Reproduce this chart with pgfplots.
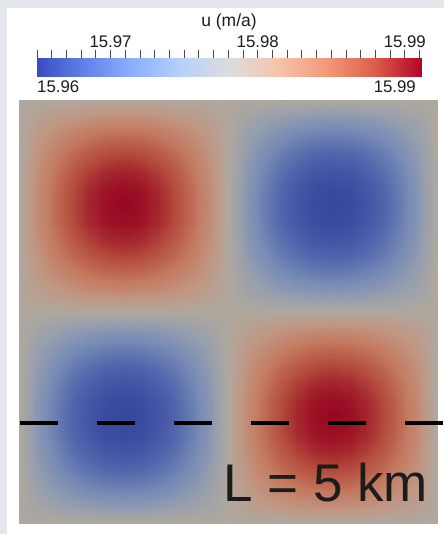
\documentclass[border=0pt]{standalone}
\usepackage{pgfplots}
\pgfplotsset{compat=1.18}
\usepgfplotslibrary{patchplots}
\usepackage{pgfplotstable}
\usepackage{fontspec}
\setmainfont{Liberation Sans}
\definecolor{bgc}{RGB}{228,231,236}
\definecolor{txt}{RGB}{28,28,28}
\definecolor{tk}{RGB}{70,70,70}
\pgfplotsset{
 colormap={coolwarm}{rgb255=(59,76,192) rgb255=(98,130,234) rgb255=(141,176,254) rgb255=(184,208,249) rgb255=(221,221,221) rgb255=(245,196,173) rgb255=(244,154,123) rgb255=(222,96,77) rgb255=(180,4,38)},
 colormap={fielddark}{rgb255=(55,70,160) rgb255=(82,102,172) rgb255=(118,138,182) rgb255=(150,158,174) rgb255=(176,168,158) rgb255=(192,150,130) rgb255=(196,122,97) rgb255=(180,75,60) rgb255=(150,3,32)},
}
% field u (m/a) on a 25 x 25 grid, one row of 25 values per line (bottom row first)
\pgfplotstableread[row sep=\\]{
u\\
15.978\\ 15.978\\ 15.978\\ 15.978\\ 15.978\\ 15.978\\ 15.978\\ 15.978\\ 15.978\\ 15.978\\ 15.978\\ 15.978\\ 15.978\\ 15.978\\ 15.978\\ 15.978\\ 15.978\\ 15.978\\ 15.978\\ 15.978\\ 15.978\\ 15.978\\ 15.978\\ 15.978\\ 15.978\\
15.978\\ 15.9765\\ 15.9755\\ 15.9747\\ 15.9741\\ 15.9737\\ 15.9736\\ 15.9737\\ 15.9741\\ 15.9747\\ 15.9755\\ 15.9765\\ 15.978\\ 15.9795\\ 15.9805\\ 15.9813\\ 15.9819\\ 15.9823\\ 15.9824\\ 15.9823\\ 15.9819\\ 15.9813\\ 15.9805\\ 15.9795\\ 15.978\\
15.978\\ 15.9755\\ 15.9737\\ 15.9723\\ 15.9713\\ 15.9707\\ 15.9705\\ 15.9707\\ 15.9713\\ 15.9723\\ 15.9737\\ 15.9755\\ 15.978\\ 15.9805\\ 15.9823\\ 15.9837\\ 15.9847\\ 15.9853\\ 15.9855\\ 15.9853\\ 15.9847\\ 15.9837\\ 15.9823\\ 15.9805\\ 15.978\\
15.978\\ 15.9747\\ 15.9723\\ 15.9705\\ 15.9692\\ 15.9684\\ 15.9681\\ 15.9684\\ 15.9692\\ 15.9705\\ 15.9723\\ 15.9747\\ 15.978\\ 15.9813\\ 15.9837\\ 15.9855\\ 15.9868\\ 15.9876\\ 15.9879\\ 15.9876\\ 15.9868\\ 15.9855\\ 15.9837\\ 15.9813\\ 15.978\\
15.978\\ 15.9741\\ 15.9713\\ 15.9692\\ 15.9677\\ 15.9667\\ 15.9664\\ 15.9667\\ 15.9677\\ 15.9692\\ 15.9713\\ 15.9741\\ 15.978\\ 15.9819\\ 15.9847\\ 15.9868\\ 15.9883\\ 15.9893\\ 15.9896\\ 15.9893\\ 15.9883\\ 15.9868\\ 15.9847\\ 15.9819\\ 15.978\\
15.978\\ 15.9737\\ 15.9707\\ 15.9684\\ 15.9667\\ 15.9657\\ 15.9654\\ 15.9657\\ 15.9667\\ 15.9684\\ 15.9707\\ 15.9737\\ 15.978\\ 15.9823\\ 15.9853\\ 15.9876\\ 15.9893\\ 15.9903\\ 15.9906\\ 15.9903\\ 15.9893\\ 15.9876\\ 15.9853\\ 15.9823\\ 15.978\\
15.978\\ 15.9736\\ 15.9705\\ 15.9681\\ 15.9664\\ 15.9654\\ 15.965\\ 15.9654\\ 15.9664\\ 15.9681\\ 15.9705\\ 15.9736\\ 15.978\\ 15.9824\\ 15.9855\\ 15.9879\\ 15.9896\\ 15.9906\\ 15.991\\ 15.9906\\ 15.9896\\ 15.9879\\ 15.9855\\ 15.9824\\ 15.978\\
15.978\\ 15.9737\\ 15.9707\\ 15.9684\\ 15.9667\\ 15.9657\\ 15.9654\\ 15.9657\\ 15.9667\\ 15.9684\\ 15.9707\\ 15.9737\\ 15.978\\ 15.9823\\ 15.9853\\ 15.9876\\ 15.9893\\ 15.9903\\ 15.9906\\ 15.9903\\ 15.9893\\ 15.9876\\ 15.9853\\ 15.9823\\ 15.978\\
15.978\\ 15.9741\\ 15.9713\\ 15.9692\\ 15.9677\\ 15.9667\\ 15.9664\\ 15.9667\\ 15.9677\\ 15.9692\\ 15.9713\\ 15.9741\\ 15.978\\ 15.9819\\ 15.9847\\ 15.9868\\ 15.9883\\ 15.9893\\ 15.9896\\ 15.9893\\ 15.9883\\ 15.9868\\ 15.9847\\ 15.9819\\ 15.978\\
15.978\\ 15.9747\\ 15.9723\\ 15.9705\\ 15.9692\\ 15.9684\\ 15.9681\\ 15.9684\\ 15.9692\\ 15.9705\\ 15.9723\\ 15.9747\\ 15.978\\ 15.9813\\ 15.9837\\ 15.9855\\ 15.9868\\ 15.9876\\ 15.9879\\ 15.9876\\ 15.9868\\ 15.9855\\ 15.9837\\ 15.9813\\ 15.978\\
15.978\\ 15.9755\\ 15.9737\\ 15.9723\\ 15.9713\\ 15.9707\\ 15.9705\\ 15.9707\\ 15.9713\\ 15.9723\\ 15.9737\\ 15.9755\\ 15.978\\ 15.9805\\ 15.9823\\ 15.9837\\ 15.9847\\ 15.9853\\ 15.9855\\ 15.9853\\ 15.9847\\ 15.9837\\ 15.9823\\ 15.9805\\ 15.978\\
15.978\\ 15.9765\\ 15.9755\\ 15.9747\\ 15.9741\\ 15.9737\\ 15.9736\\ 15.9737\\ 15.9741\\ 15.9747\\ 15.9755\\ 15.9765\\ 15.978\\ 15.9795\\ 15.9805\\ 15.9813\\ 15.9819\\ 15.9823\\ 15.9824\\ 15.9823\\ 15.9819\\ 15.9813\\ 15.9805\\ 15.9795\\ 15.978\\
15.978\\ 15.978\\ 15.978\\ 15.978\\ 15.978\\ 15.978\\ 15.978\\ 15.978\\ 15.978\\ 15.978\\ 15.978\\ 15.978\\ 15.978\\ 15.978\\ 15.978\\ 15.978\\ 15.978\\ 15.978\\ 15.978\\ 15.978\\ 15.978\\ 15.978\\ 15.978\\ 15.978\\ 15.978\\
15.978\\ 15.9795\\ 15.9805\\ 15.9813\\ 15.9819\\ 15.9823\\ 15.9824\\ 15.9823\\ 15.9819\\ 15.9813\\ 15.9805\\ 15.9795\\ 15.978\\ 15.9765\\ 15.9755\\ 15.9747\\ 15.9741\\ 15.9737\\ 15.9736\\ 15.9737\\ 15.9741\\ 15.9747\\ 15.9755\\ 15.9765\\ 15.978\\
15.978\\ 15.9805\\ 15.9823\\ 15.9837\\ 15.9847\\ 15.9853\\ 15.9855\\ 15.9853\\ 15.9847\\ 15.9837\\ 15.9823\\ 15.9805\\ 15.978\\ 15.9755\\ 15.9737\\ 15.9723\\ 15.9713\\ 15.9707\\ 15.9705\\ 15.9707\\ 15.9713\\ 15.9723\\ 15.9737\\ 15.9755\\ 15.978\\
15.978\\ 15.9813\\ 15.9837\\ 15.9855\\ 15.9868\\ 15.9876\\ 15.9879\\ 15.9876\\ 15.9868\\ 15.9855\\ 15.9837\\ 15.9813\\ 15.978\\ 15.9747\\ 15.9723\\ 15.9705\\ 15.9692\\ 15.9684\\ 15.9681\\ 15.9684\\ 15.9692\\ 15.9705\\ 15.9723\\ 15.9747\\ 15.978\\
15.978\\ 15.9819\\ 15.9847\\ 15.9868\\ 15.9883\\ 15.9893\\ 15.9896\\ 15.9893\\ 15.9883\\ 15.9868\\ 15.9847\\ 15.9819\\ 15.978\\ 15.9741\\ 15.9713\\ 15.9692\\ 15.9677\\ 15.9667\\ 15.9664\\ 15.9667\\ 15.9677\\ 15.9692\\ 15.9713\\ 15.9741\\ 15.978\\
15.978\\ 15.9823\\ 15.9853\\ 15.9876\\ 15.9893\\ 15.9903\\ 15.9906\\ 15.9903\\ 15.9893\\ 15.9876\\ 15.9853\\ 15.9823\\ 15.978\\ 15.9737\\ 15.9707\\ 15.9684\\ 15.9667\\ 15.9657\\ 15.9654\\ 15.9657\\ 15.9667\\ 15.9684\\ 15.9707\\ 15.9737\\ 15.978\\
15.978\\ 15.9824\\ 15.9855\\ 15.9879\\ 15.9896\\ 15.9906\\ 15.991\\ 15.9906\\ 15.9896\\ 15.9879\\ 15.9855\\ 15.9824\\ 15.978\\ 15.9736\\ 15.9705\\ 15.9681\\ 15.9664\\ 15.9654\\ 15.965\\ 15.9654\\ 15.9664\\ 15.9681\\ 15.9705\\ 15.9736\\ 15.978\\
15.978\\ 15.9823\\ 15.9853\\ 15.9876\\ 15.9893\\ 15.9903\\ 15.9906\\ 15.9903\\ 15.9893\\ 15.9876\\ 15.9853\\ 15.9823\\ 15.978\\ 15.9737\\ 15.9707\\ 15.9684\\ 15.9667\\ 15.9657\\ 15.9654\\ 15.9657\\ 15.9667\\ 15.9684\\ 15.9707\\ 15.9737\\ 15.978\\
15.978\\ 15.9819\\ 15.9847\\ 15.9868\\ 15.9883\\ 15.9893\\ 15.9896\\ 15.9893\\ 15.9883\\ 15.9868\\ 15.9847\\ 15.9819\\ 15.978\\ 15.9741\\ 15.9713\\ 15.9692\\ 15.9677\\ 15.9667\\ 15.9664\\ 15.9667\\ 15.9677\\ 15.9692\\ 15.9713\\ 15.9741\\ 15.978\\
15.978\\ 15.9813\\ 15.9837\\ 15.9855\\ 15.9868\\ 15.9876\\ 15.9879\\ 15.9876\\ 15.9868\\ 15.9855\\ 15.9837\\ 15.9813\\ 15.978\\ 15.9747\\ 15.9723\\ 15.9705\\ 15.9692\\ 15.9684\\ 15.9681\\ 15.9684\\ 15.9692\\ 15.9705\\ 15.9723\\ 15.9747\\ 15.978\\
15.978\\ 15.9805\\ 15.9823\\ 15.9837\\ 15.9847\\ 15.9853\\ 15.9855\\ 15.9853\\ 15.9847\\ 15.9837\\ 15.9823\\ 15.9805\\ 15.978\\ 15.9755\\ 15.9737\\ 15.9723\\ 15.9713\\ 15.9707\\ 15.9705\\ 15.9707\\ 15.9713\\ 15.9723\\ 15.9737\\ 15.9755\\ 15.978\\
15.978\\ 15.9795\\ 15.9805\\ 15.9813\\ 15.9819\\ 15.9823\\ 15.9824\\ 15.9823\\ 15.9819\\ 15.9813\\ 15.9805\\ 15.9795\\ 15.978\\ 15.9765\\ 15.9755\\ 15.9747\\ 15.9741\\ 15.9737\\ 15.9736\\ 15.9737\\ 15.9741\\ 15.9747\\ 15.9755\\ 15.9765\\ 15.978\\
15.978\\ 15.978\\ 15.978\\ 15.978\\ 15.978\\ 15.978\\ 15.978\\ 15.978\\ 15.978\\ 15.978\\ 15.978\\ 15.978\\ 15.978\\ 15.978\\ 15.978\\ 15.978\\ 15.978\\ 15.978\\ 15.978\\ 15.978\\ 15.978\\ 15.978\\ 15.978\\ 15.978\\ 15.978\\
}\field
% colour bar strip
\pgfplotstableread[row sep=\\]{
x y\\
15.965 0\\ 15.967 0\\ 15.969 0\\ 15.971 0\\ 15.973 0\\ 15.975 0\\ 15.977 0\\ 15.979 0\\ 15.981 0\\ 15.983 0\\ 15.985 0\\ 15.987 0\\ 15.989 0\\ 15.9911 0\\
15.965 1\\ 15.967 1\\ 15.969 1\\ 15.971 1\\ 15.973 1\\ 15.975 1\\ 15.977 1\\ 15.979 1\\ 15.981 1\\ 15.983 1\\ 15.985 1\\ 15.987 1\\ 15.989 1\\ 15.9911 1\\
}\cbar
\begin{document}
\begin{tikzpicture}[x=1pt,y=1pt]
\fill[bgc] (0,0) rectangle (444,534);
\fill[white] (7,0) rectangle (444,526);
% field
\begin{axis}[at={(19pt,10pt)}, anchor=south west, scale only axis,
  width=418pt, height=423pt, hide axis, clip=false,
  xmin=0, xmax=24, ymin=0, ymax=24,
  colormap name=fielddark, point meta min=15.965, point meta max=15.9911]
\addplot[surf, shader=interp, patch type=bilinear, mesh/cols=25, point meta=\thisrow{u}]
  table[x index=0, y index=0, x expr={mod(\coordindex,25)}, y expr={floor(\coordindex/25)}] {\field};
\addplot[black, line width=4pt, dash pattern=on 38pt off 39pt]
  coordinates {(0.06,5.748) (24.34,5.748)};
\end{axis}
% colour bar
\begin{axis}[at={(37pt,457.5pt)}, anchor=south west, scale only axis,
  width=384pt, height=18.5pt,
  xmin=15.965, xmax=15.9911, ymin=0, ymax=1,
  axis x line*=top, axis y line=none, x axis line style={draw=none},
  colormap name=coolwarm, point meta min=15.965, point meta max=15.9911,
  xtick={15.97,15.98,15.99},
  minor xtick={15.965,15.966,15.967,15.968,15.969,15.971,15.972,15.973,15.974,15.975,15.976,15.977,15.978,15.979,15.981,15.982,15.983,15.984,15.985,15.986,15.987,15.988,15.989,15.991},
  tick align=outside, major tick length=8pt, minor tick length=8pt,
  tick style={tk, line width=0.8pt},
  extra x ticks={15.97,15.98,15.99}, extra x tick labels={},
  extra x tick style={tick align=inside, major tick length=9pt},
  /pgf/number format/assume math mode=true,
  /pgf/number format/fixed, /pgf/number format/precision=2,
  xticklabel style={font=\fontsize{16.8}{18}\selectfont, text=txt, inner sep=0pt, anchor=south, yshift=2.5pt},
  clip=false]
\addplot[surf, shader=interp, mesh/cols=14, point meta=x] table[x=x, y=y] {\cbar};
\end{axis}
\node[anchor=base, text=txt, inner sep=0pt, font=\fontsize{17.5}{19}\selectfont] at (229,507) {u (m/a)};
\node[anchor=base west, text=txt, inner sep=0pt, font=\fontsize{16.8}{18}\selectfont] at (37,441) {15.96};
\node[anchor=base east, text=txt, inner sep=0pt, font=\fontsize{16.8}{18}\selectfont] at (416,441) {15.99};
\node[anchor=base west, text=txt, inner sep=0pt, font=\fontsize{53}{60}\selectfont] at (223,32) {L = 5 km};
\pgfresetboundingbox
\path (0,0) rectangle (444,534);
\end{tikzpicture}
\end{document}
